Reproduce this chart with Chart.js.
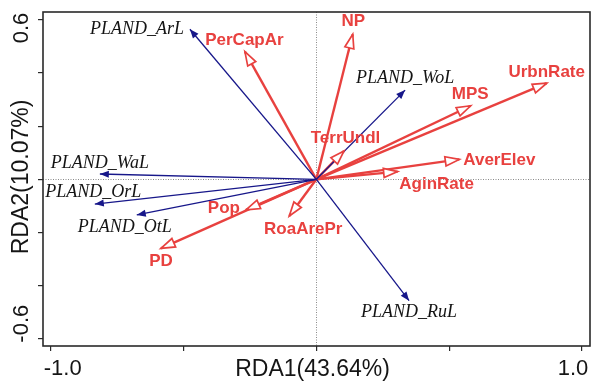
<!DOCTYPE html>
<html>
<head>
<meta charset="utf-8">
<title>RDA biplot</title>
<script src="https://cdn.jsdelivr.net/npm/chart.js@4/dist/chart.umd.min.js"></script>
<style>
  html, body { margin: 0; padding: 0; background: #ffffff; }
  #wrap { width: 591px; height: 387px; }
</style>
</head>
<body>
<div id="wrap"><canvas id="rda" width="591" height="387"></canvas></div>
<script>
// Landscape composition variables (response, blue arrows)
const LAND_VARS = ['PLAND_ArL', 'PLAND_WaL', 'PLAND_OrL', 'PLAND_OtL', 'PLAND_WoL', 'PLAND_RuL'];
const LAND_RDA1 = [-0.476, -0.815, -0.834, -0.676, 0.334, 0.349];
const LAND_RDA2 = [0.565, 0.020, -0.093, -0.134, 0.336, -0.457];

// Explanatory variables (red arrows)
const ENV_VARS = ['PerCapAr', 'NP', 'UrbnRate', 'MPS', 'TerrUndl', 'AverElev', 'AginRate', 'Pop', 'RoaArePr', 'PD'];
const ENV_RDA1 = [-0.269, 0.137, 0.867, 0.581, 0.104, 0.538, 0.306, -0.265, -0.102, -0.585];
const ENV_RDA2 = [0.481, 0.546, 0.362, 0.277, 0.107, 0.075, 0.029, -0.115, -0.138, -0.260];

// Axis ticks and their printed labels
const X_TICKS = [-1.0, -0.5, 0, 0.5, 1.0];
const Y_TICKS = [-0.6, -0.4, -0.2, 0, 0.2, 0.4, 0.6];
const X_TICK_LABELS = { '-1': '-1.0', '1': '1.0' };
const Y_TICK_LABELS = { '-0.6': '-0.6', '0.6': '0.6' };
const X_TITLE = 'RDA1(43.64%)';
const Y_TITLE = 'RDA2(10.07%)';

const BLUE = '#17178a';
const RED = '#e8413f';

// where each variable name sits relative to its arrow tip (px)
const LABEL_PLACE = {
  PLAND_ArL: { dx: -6, dy: 0.5, align: 'right' },
  PLAND_WaL: { dx: 0, dy: -10.5, align: 'center' },
  PLAND_OrL: { dx: -1.5, dy: -12, align: 'center' },
  PLAND_OtL: { dx: -12, dy: 12.5, align: 'center' },
  PLAND_WoL: { dx: 0, dy: -12, align: 'center' },
  PLAND_RuL: { dx: 0, dy: 12, align: 'center' },
  PerCapAr: { dx: -0.5, dy: -11.5, align: 'center' },
  NP: { dx: 0.5, dy: -13, align: 'center' },
  UrbnRate: { dx: 0, dy: -10.5, align: 'center' },
  MPS: { dx: -0.5, dy: -11.5, align: 'center' },
  TerrUndl: { dx: 1.5, dy: -12.5, align: 'center' },
  AverElev: { dx: 4, dy: 0.7, align: 'left' },
  AginRate: { dx: 1.6, dy: 12.3, align: 'left' },
  Pop: { dx: -6, dy: -2, align: 'right' },
  RoaArePr: { dx: 14, dy: 13, align: 'center' },
  PD: { dx: 0, dy: 13, align: 'center' }
};

function arrowSet(name, x, y, kind) {
  return {
    label: name,
    kind: kind,
    data: [{ x: 0, y: 0 }, { x: x, y: y }],
    showLine: true,
    borderColor: kind === 'land' ? BLUE : RED,
    borderWidth: kind === 'land' ? 1.3 : 2.4,
    pointRadius: 0,
    pointHoverRadius: 0,
    fill: false,
    tension: 0
  };
}

const datasets = [];
LAND_VARS.forEach((n, i) => datasets.push(arrowSet(n, LAND_RDA1[i], LAND_RDA2[i], 'land')));
ENV_VARS.forEach((n, i) => datasets.push(arrowSet(n, ENV_RDA1[i], ENV_RDA2[i], 'env')));

// dotted zero lines inside the plot
const zeroLines = {
  id: 'zeroLines',
  beforeDatasetsDraw(chart) {
    const { ctx, chartArea: a, scales: { x, y } } = chart;
    ctx.save();
    ctx.strokeStyle = '#8a8a8a';
    ctx.lineWidth = 1;
    ctx.setLineDash([1, 1.5]);
    const x0 = Math.round(x.getPixelForValue(0)) + 0.5;
    const y0 = Math.round(y.getPixelForValue(0)) + 0.5;
    ctx.beginPath();
    ctx.moveTo(x0, a.top); ctx.lineTo(x0, a.bottom);
    ctx.moveTo(a.left, y0); ctx.lineTo(a.right, y0);
    ctx.stroke();
    ctx.restore();
  }
};

// arrow heads, variable names, frame and axis text
const decorations = {
  id: 'decorations',
  afterDatasetsDraw(chart) {
    const { ctx } = chart;
    chart.data.datasets.forEach((ds, i) => {
      const meta = chart.getDatasetMeta(i);
      const p0 = meta.data[0], p1 = meta.data[1];
      const ang = Math.atan2(p1.y - p0.y, p1.x - p0.x);
      ctx.save();
      ctx.translate(p1.x, p1.y);
      ctx.rotate(ang);
      ctx.beginPath();
      if (ds.kind === 'land') {
        ctx.moveTo(0, 0);
        ctx.lineTo(-9, -3.6);
        ctx.lineTo(-9, 3.6);
        ctx.closePath();
        ctx.fillStyle = BLUE;
        ctx.fill();
      } else {
        ctx.moveTo(0, 0);
        ctx.lineTo(-14, -4.6);
        ctx.lineTo(-14, 4.6);
        ctx.closePath();
        ctx.fillStyle = '#ffffff';
        ctx.fill();
        ctx.lineWidth = 1.7;
        ctx.lineJoin = 'miter';
        ctx.strokeStyle = RED;
        ctx.stroke();
      }
      ctx.restore();
    });

    chart.data.datasets.forEach((ds, i) => {
      const meta = chart.getDatasetMeta(i);
      const p1 = meta.data[1];
      const place = LABEL_PLACE[ds.label];
      ctx.save();
      if (ds.kind === 'land') {
        ctx.font = 'italic 18px "Liberation Serif", "Times New Roman", serif';
        ctx.fillStyle = '#141414';
      } else {
        ctx.font = 'bold 17px "Liberation Sans", Arial, sans-serif';
        ctx.fillStyle = RED;
      }
      ctx.textAlign = place.align;
      ctx.textBaseline = 'middle';
      ctx.fillText(ds.label, p1.x + place.dx, p1.y + place.dy);
      ctx.restore();
    });
  },
  afterDraw(chart) {
    const { ctx, chartArea: a, scales: { x, y } } = chart;
    ctx.save();
    ctx.strokeStyle = '#2a2a2a';
    ctx.lineWidth = 1.6;
    ctx.strokeRect(a.left, a.top, a.right - a.left, a.bottom - a.top);

    ctx.fillStyle = '#151515';
    ctx.font = '22px "Liberation Sans", Arial, sans-serif';
    ctx.textBaseline = 'middle';
    ctx.textAlign = 'center';
    X_TICKS.forEach(v => {
      const t = X_TICK_LABELS[String(v)];
      if (!t) return;
      const px = x.getPixelForValue(v);
      const shift = v < 0 ? 12 : -9;
      ctx.fillText(t, px + shift, 369);
    });
    Y_TICKS.forEach(v => {
      const t = Y_TICK_LABELS[String(v)];
      if (!t) return;
      const py = y.getPixelForValue(v);
      const shift = v > 0 ? 8 : -15;
      ctx.save();
      ctx.translate(22, py + shift);
      ctx.rotate(-Math.PI / 2);
      ctx.fillText(t, 0, 0);
      ctx.restore();
    });

    ctx.font = '23px "Liberation Sans", Arial, sans-serif';
    ctx.fillText(X_TITLE, (a.left + a.right) / 2 - 4, 370);
    ctx.save();
    ctx.translate(22, (a.top + a.bottom) / 2 - 2);
    ctx.rotate(-Math.PI / 2);
    ctx.fillText(Y_TITLE, 0, 0);
    ctx.restore();
    ctx.restore();
  }
};

const tickGrid = {
  display: true,
  drawOnChartArea: false,
  drawTicks: true,
  tickLength: 5,
  color: '#2a2a2a',
  tickColor: '#2a2a2a',
  lineWidth: 1.2
};

new Chart(document.getElementById('rda'), {
  type: 'scatter',
  data: { datasets: datasets },
  options: {
    responsive: false,
    devicePixelRatio: 1,
    animation: false,
    events: [],
    layout: { padding: { left: 38, top: 12, right: 1, bottom: 36 } },
    plugins: { legend: { display: false }, tooltip: { enabled: false } },
    scales: {
      x: {
        type: 'linear',
        min: -1.029,
        max: 1.030,
        afterBuildTicks: s => { s.ticks = X_TICKS.map(v => ({ value: v })); },
        ticks: { display: false },
        grid: tickGrid,
        border: { display: false }
      },
      y: {
        type: 'linear',
        min: -0.6275,
        max: 0.630,
        afterBuildTicks: s => { s.ticks = Y_TICKS.map(v => ({ value: v })); },
        ticks: { display: false },
        grid: tickGrid,
        border: { display: false }
      }
    }
  },
  plugins: [zeroLines, decorations]
});
</script>
</body>
</html>
